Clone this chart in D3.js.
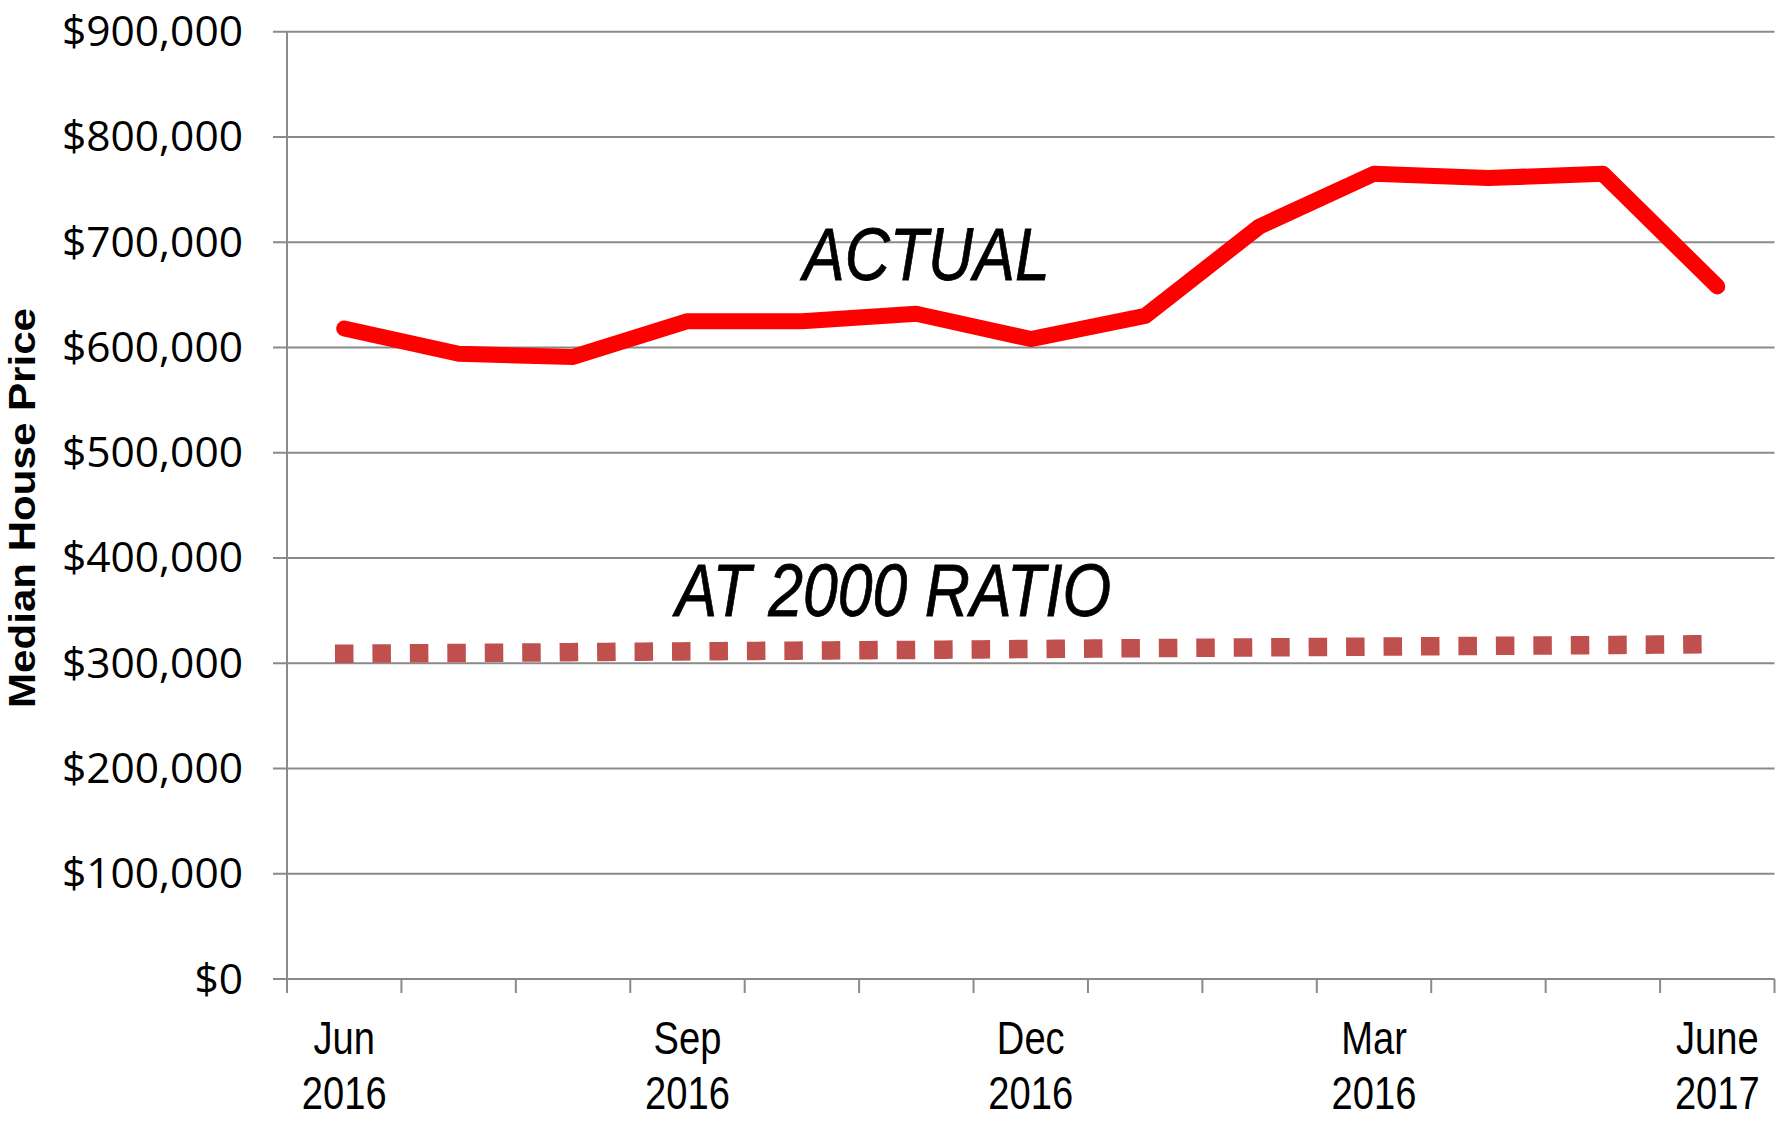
<!DOCTYPE html>
<html>
<head>
<meta charset="utf-8">
<script src="https://cdn.jsdelivr.net/npm/d3@7"></script>
<style>
  html, body { margin: 0; padding: 0; background: #ffffff; }
  svg { display: block; }
</style>
</head>
<body>
<svg id="chart" width="1787" height="1124"></svg>
<script>
// Monthly categories, June 2016 through June 2017
const months = ["Jun 2016", "Jul 2016", "Aug 2016", "Sep 2016", "Oct 2016", "Nov 2016",
                "Dec 2016", "Jan 2017", "Feb 2017", "Mar 2017", "Apr 2017", "May 2017", "Jun 2017"];

// Median house price, actual
const actualPrices = [618000, 594000, 591000, 625000, 625000, 632000, 608000,
                      630000, 715000, 765000, 761000, 765000, 658000];

// Median house price if the 2000 price ratio had held
const ratio2000Prices = [309000, 309800, 310500, 311300, 312000, 312700, 313500,
                         314300, 315000, 315800, 316500, 317300, 318200];

// Axis labelling
const yTicks = [0, 100000, 200000, 300000, 400000, 500000, 600000, 700000, 800000, 900000];
const xTickLabels = [
  { month: "Jun 2016", lines: ["Jun", "2016"] },
  { month: "Sep 2016", lines: ["Sep", "2016"] },
  { month: "Dec 2016", lines: ["Dec", "2016"] },
  { month: "Mar 2017", lines: ["Mar", "2016"] },
  { month: "Jun 2017", lines: ["June", "2017"] }
];
const yTitle = "Median House Price";
const seriesLabels = [
  { text: "ACTUAL", month: "Oct 2016", value: 664000, dx: 1 },
  { text: "AT 2000 RATIO", month: "Sep 2016", value: 345000, dx: -12 }
];

const svg = d3.select("#chart");
const plot = { left: 287, right: 1774.5, top: 31.7, bottom: 979 };

const x = d3.scaleBand().domain(months).range([plot.left, plot.right]).padding(0);
const cx = m => x(m) + x.bandwidth() / 2;
const y = d3.scaleLinear().domain([0, 900000]).range([plot.bottom, plot.top]);

const gridColor = "#8a8a8a";

// Horizontal gridlines with short ticks left of the value axis
svg.append("g")
  .selectAll("line")
  .data(yTicks)
  .join("line")
  .attr("x1", plot.left - 14)
  .attr("x2", plot.right)
  .attr("y1", d => y(d))
  .attr("y2", d => y(d))
  .attr("stroke", gridColor)
  .attr("stroke-width", 2);

// Value axis line
svg.append("line")
  .attr("x1", plot.left).attr("x2", plot.left)
  .attr("y1", plot.top).attr("y2", plot.bottom + 14)
  .attr("stroke", gridColor).attr("stroke-width", 2);

// Category axis ticks at band boundaries
const boundaries = months.map(m => x(m)).concat([plot.right]);
svg.append("g")
  .selectAll("line")
  .data(boundaries)
  .join("line")
  .attr("x1", d => d).attr("x2", d => d)
  .attr("y1", plot.bottom).attr("y2", plot.bottom + 14)
  .attr("stroke", gridColor).attr("stroke-width", 2);

// Value axis labels
const fmt = d3.format("$,");
svg.append("g")
  .selectAll("text")
  .data(yTicks)
  .join("text")
  .attr("x", 243)
  .attr("y", d => y(d) + 14.5)
  .attr("text-anchor", "end")
  .attr("font-family", "'Open Sans', 'Liberation Sans', sans-serif")
  .attr("font-size", 42.5)
  .attr("fill", "#000")
  .text(d => fmt(d));

// Category axis labels (two lines, condensed)
const xl = svg.append("g")
  .selectAll("g")
  .data(xTickLabels)
  .join("g")
  .attr("transform", d => `translate(${cx(d.month)},0) scale(0.82,1)`);
xl.append("text")
  .attr("x", 0).attr("y", 1054)
  .attr("text-anchor", "middle")
  .attr("font-family", "'Liberation Sans', Arial, sans-serif")
  .attr("font-size", 46.5)
  .text(d => d.lines[0]);
xl.append("text")
  .attr("x", 0).attr("y", 1109)
  .attr("text-anchor", "middle")
  .attr("font-family", "'Liberation Sans', Arial, sans-serif")
  .attr("font-size", 46.5)
  .text(d => d.lines[1]);

// Vertical axis title
svg.append("text")
  .attr("transform", "translate(35,508) rotate(-90)")
  .attr("text-anchor", "middle")
  .attr("font-family", "'Liberation Sans', Arial, sans-serif")
  .attr("font-weight", "bold")
  .attr("font-size", 37)
  .attr("textLength", 400)
  .attr("lengthAdjust", "spacingAndGlyphs")
  .text(yTitle);

// 2000-ratio series: square dots
const line = d3.line().x(d => cx(d.m)).y(d => y(d.v));
svg.append("path")
  .datum(months.map((m, i) => ({ m, v: ratio2000Prices[i] })))
  .attr("d", line)
  .attr("fill", "none")
  .attr("stroke", "#c0504d")
  .attr("stroke-width", 18.5)
  .attr("stroke-linecap", "square")
  .attr("stroke-dasharray", "0.01 37.44");

// Actual series
svg.append("path")
  .datum(months.map((m, i) => ({ m, v: actualPrices[i] })))
  .attr("d", line)
  .attr("fill", "none")
  .attr("stroke", "#ff0000")
  .attr("stroke-width", 16)
  .attr("stroke-linecap", "round")
  .attr("stroke-linejoin", "round");

// Series annotations
svg.append("g")
  .selectAll("g")
  .data(seriesLabels)
  .join("g")
  .attr("transform", d => `translate(${cx(d.month) + d.dx},${y(d.value)}) scale(0.84,1)`)
  .append("text")
  .attr("x", 0).attr("y", 0)
  .attr("font-family", "'Liberation Sans', Arial, sans-serif")
  .attr("font-style", "italic")
  .attr("font-size", 74.5)
  .attr("stroke", "#000")
  .attr("stroke-width", 0.8)
  .text(d => d.text);
</script>
</body>
</html>
